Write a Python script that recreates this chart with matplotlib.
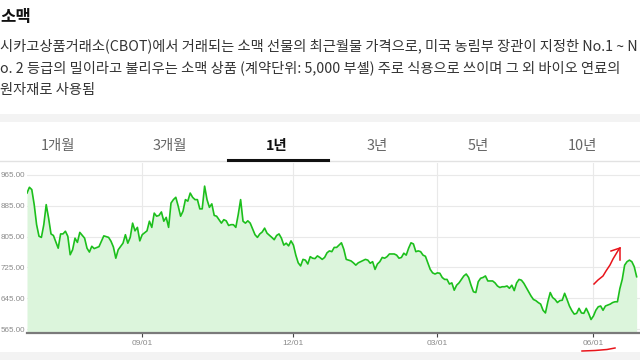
import matplotlib
matplotlib.use("Agg")
import matplotlib.pyplot as plt
from matplotlib.lines import Line2D
from matplotlib.patches import Rectangle

# ==================================================
# Data (trading-day index -> price, cents/bushel)
# ==================================================

day_idx = [
    0, 1, 2, 3, 4, 5, 6, 7, 8, 9, 10, 11, 13, 14, 15, 16, 17, 18, 19, 20,
    21, 22, 24, 25, 26, 27, 28, 30, 31, 32, 34, 35, 36, 37, 38, 40, 41, 42,
    43, 44, 45, 46, 47, 48, 50, 51, 52, 53, 54, 55, 56, 57, 58, 59, 60, 61,
    62, 63, 64, 65, 66, 67, 68, 69, 70, 71, 72, 73, 74, 75, 76, 77, 78, 79,
    80, 81, 82, 83, 84, 85, 86, 87, 88, 89, 90, 91, 92, 93, 95, 96, 97, 98,
    99, 100, 102, 103, 104, 105, 106, 107, 108, 109, 110, 111, 112, 113,
    114, 115, 116, 117, 118, 119, 120, 121, 122, 123, 124, 125, 126, 127,
    128, 129, 130, 131, 132, 133, 134, 135, 136, 137, 138, 139, 141, 142,
    143, 144, 145, 146, 147, 148, 149, 150, 151, 153, 154, 155, 156, 157,
    158, 159, 160, 161, 162, 163, 164, 165, 166, 167, 168, 169, 170, 171,
    172, 173, 174, 175, 176, 177, 178, 179, 180, 181, 182, 183, 184, 185,
    186, 187, 188, 189, 190, 191, 192, 193, 194, 195, 196, 197, 198, 199,
    200, 201, 202, 203, 204, 205, 206, 207, 208, 209, 210, 211, 212, 213,
    214, 215, 216, 217, 218, 219, 220, 221, 222, 223, 224, 225, 226, 227,
    228, 229, 230, 231, 232, 233, 234, 235, 236, 237, 238, 239, 240, 241,
    243, 244, 245, 246, 247, 248, 249, 250, 251, 252, 253, 254,
]

price = [
    918, 933, 927, 888, 836, 806, 803, 836, 888, 853, 812, 808, 775, 812,
    812, 819, 806, 758, 771, 801, 790, 816, 801, 775, 765, 780, 774, 779,
    793, 807, 803, 793, 778, 749, 771, 788, 810, 788, 803, 840, 820, 829,
    794, 810, 820, 845, 829, 866, 858, 860, 869, 845, 855, 829, 892, 901,
    907, 884, 858, 871, 901, 897, 918, 907, 901, 901, 877, 877, 936, 901,
    881, 890, 860, 858, 849, 840, 849, 846, 834, 836, 836, 829, 862, 901,
    845, 840, 846, 840, 810, 803, 812, 817, 827, 814, 803, 797, 808, 812,
    801, 783, 788, 781, 794, 783, 757, 737, 729, 746, 744, 734, 753, 749,
    748, 755, 751, 746, 751, 763, 768, 766, 777, 777, 783, 789, 772, 746,
    744, 742, 737, 731, 737, 740, 746, 744, 736, 740, 720, 734, 740, 751,
    749, 753, 760, 760, 757, 749, 751, 762, 757, 775, 789, 786, 766, 768,
    766, 757, 754, 737, 720, 711, 708, 711, 710, 699, 694, 694, 682, 685,
    666, 679, 685, 694, 703, 708, 699, 679, 662, 660, 688, 697, 699, 703,
    690, 690, 690, 685, 677, 673, 675, 675, 677, 671, 679, 665, 685, 694,
    692, 684, 673, 662, 651, 642, 639, 634, 630, 614, 607, 636, 660, 647,
    642, 634, 639, 640, 658, 642, 625, 613, 604, 606, 619, 607, 606, 619,
    606, 590, 599, 614, 623, 625, 614, 625, 630, 634, 636, 636, 670, 694,
    731, 740, 744, 740, 727, 701,
]

tick_idx = [48, 111, 171, 236]
tick_labels = ["09/01", "12/01", "03/01", "06/01"]

y_ticks = [565, 645, 725, 805, 885, 965]

tabs = ["1개월", "3개월", "1년", "3년", "5년", "10년"]
active_tab = "1년"

title = "소맥"
desc_lines = [
    "시카고상품거래소(CBOT)에서 거래되는 소맥 선물의 최근월물 가격으로, 미국 농림부 장관이 지정한 No.1 ~ N",
    "o. 2 등급의 밀이라고 불리우는 소맥 상품 (계약단위: 5,000 부셸) 주로 식용으로 쓰이며 그 외 바이오 연료의",
    "원자재로 사용됨",
]

# ==================================================
# Style
# ==================================================

W, H = 640, 360
KR = ["Noto Sans CJK KR", "DejaVu Sans"]
LINE_GREEN = "#1cbf1c"
FILL_GREEN = "#dcf5dc"
GRID = "#e9e9e9"
LABEL_GRAY = "#8a8a8a"


def fx(x):
    return x / W


def fy(y):
    return 1 - y / H


fig = plt.figure(figsize=(6.4, 3.6), dpi=100)
fig.patch.set_facecolor("white")

# ==================================================
# Header text
# ==================================================

fig.text(fx(0), fy(17), title, family=KR, fontsize=12,
         fontweight="bold", color="#111111", va="center", ha="left")

for i, line in enumerate(desc_lines):
    fig.text(fx(0), fy(46 + i * 22), line, family=KR, fontsize=10.25,
             color="#333333", va="center", ha="left")

# separator bands
fig.patches.append(Rectangle((0, fy(122)), 1, (122 - 114) / H,
                             transform=fig.transFigure,
                             facecolor="#f3f3f3", edgecolor="none"))
fig.patches.append(Rectangle((0, 0), 1, (360 - 352) / H,
                             transform=fig.transFigure,
                             facecolor="#f3f3f3", edgecolor="none"))

# ==================================================
# Tabs
# ==================================================

tab_centers = [58, 170, 277, 377, 478, 582]
for label, cx in zip(tabs, tab_centers):
    is_active = label == active_tab
    fig.text(fx(cx), fy(146), label, family=KR, fontsize=10.4,
             fontweight="bold" if is_active else "normal",
             color="#111111" if is_active else "#666666",
             ha="center", va="center")

fig.lines.append(Line2D([0, 1], [fy(161), fy(161)],
                        transform=fig.transFigure,
                        color="#e2e2e2", lw=1))
fig.lines.append(Line2D([fx(228), fx(328)], [fy(159.5), fy(159.5)],
                        transform=fig.transFigure,
                        color="#111111", lw=2.2))

# ==================================================
# Price chart
# ==================================================

ax_left, ax_right = 27, 640
ax_top, ax_bottom = 163, 333
ax = fig.add_axes([fx(ax_left), fy(ax_bottom),
                   (ax_right - ax_left) / W, (ax_bottom - ax_top) / H])

ax.fill_between(day_idx, price, 555, color=FILL_GREEN, lw=0)
ax.plot(day_idx, price, color=LINE_GREEN, lw=1.2)

ax.set_xlim(0, 255.4)
ax.set_ylim(555, 996)

ax.set_yticks(y_ticks)
ax.set_yticklabels([f"{v:.2f}" for v in y_ticks])
ax.set_xticks(tick_idx)
ax.set_xticklabels(tick_labels)

ax.tick_params(axis="y", length=0, pad=19, labelsize=5.8,
               labelcolor=LABEL_GRAY)
for lbl in ax.get_yticklabels():
    lbl.set_ha("left")
    lbl.set_family("Liberation Sans")
ax.tick_params(axis="x", length=3, width=0.8, color="#444444",
               pad=2, labelsize=6, labelcolor=LABEL_GRAY)
for lbl in ax.get_xticklabels():
    lbl.set_family("Liberation Sans")

ax.grid(True, color=GRID, lw=0.8)
ax.set_axisbelow(True)

for side in ["top", "right", "left"]:
    ax.spines[side].set_visible(False)
ax.spines["bottom"].set_color("#7a7a7a")
ax.spines["bottom"].set_linewidth(1.6)

# ==================================================
# Hand-drawn red marks
# ==================================================

red = "#e8141b"
arrow_x = [594, 598, 603, 606, 610, 613, 616, 619]
arrow_y = [284, 280, 276, 271, 265, 259, 254, 249]
fig.lines.append(Line2D([fx(v) for v in arrow_x], [fy(v) for v in arrow_y],
                        transform=fig.transFigure, color=red, lw=1.1))
fig.lines.append(Line2D([fx(611), fx(620)], [fy(251), fy(248)],
                        transform=fig.transFigure, color=red, lw=1.1))
fig.lines.append(Line2D([fx(620), fx(620)], [fy(248), fy(260)],
                        transform=fig.transFigure, color=red, lw=1.1))
fig.lines.append(Line2D([fx(582), fx(595), fx(607), fx(615)],
                        [fy(351), fy(350.5), fy(349.5), fy(348)],
                        transform=fig.transFigure, color=red, lw=1.1))

fig.savefig("out.png", dpi=100)
